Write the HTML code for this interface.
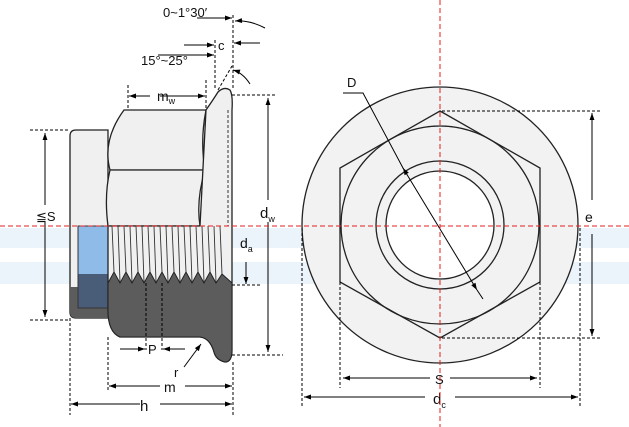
<!DOCTYPE html>
<html><head><meta charset="utf-8"><style>
html,body{margin:0;padding:0;background:#fff;width:629px;height:427px;overflow:hidden}
text{font-family:"Liberation Sans","DejaVu Sans",sans-serif;fill:#111}
</style></head><body>
<svg width="629" height="427" viewBox="0 0 629 427" xmlns="http://www.w3.org/2000/svg">
<defs>
<marker id="a" viewBox="0 0 10 10" refX="10" refY="5" markerWidth="9" markerHeight="7" orient="auto-start-reverse" markerUnits="userSpaceOnUse"><path d="M0,1.5L10,5L0,8.5z" fill="#000"/></marker>
</defs>
<!-- watermark bands -->
<rect x="0" y="228" width="629" height="20" fill="#e3eff9" opacity="0.7"/>
<rect x="0" y="262" width="629" height="22" fill="#e3eff9" opacity="0.7"/>

<!-- LEFT VIEW -->
<!-- collar -->
<path d="M76,130 H108 V318 H76 Q70,318 70,312 V136 Q70,130 76,130Z" fill="#f0f0f0" stroke="#222" stroke-width="1.3"/>
<path d="M70,287 H108 V318 H76 Q70,318 70,312Z" fill="#5c5c5c"/>
<rect x="78" y="226" width="30" height="48" fill="#8fbbe8"/>
<rect x="78" y="274" width="30" height="34" fill="#4a5d78"/>
<rect x="78" y="226" width="30" height="82" fill="none" stroke="#333"/>
<!-- hex body -->
<path d="M124,110 H206 Q200,140 205,170 L110,170 Q102,140 124,110Z" fill="#f0f0f0" stroke="#222" stroke-width="1.3"/>
<path d="M110,170 H205 Q196,200 200,226 H108 Q104,195 110,170Z" fill="#f0f0f0" stroke="#222" stroke-width="1.3"/>
<!-- flange -->
<path d="M206,110 Q213,100 218,92 Q224,86 230,90 Q233,95 232,110 V350 Q232,362 225,362 Q216,360 214,352 Q210,338 200,337 H120 Q108,332 108,310 V226 H200 Z" fill="#f0f0f0" stroke="#222" stroke-width="1.3"/>
<!-- lower dark -->
<path d="M108,283 L114,272 120,283 126,272 132,283 138,272 144,283 150,272 156,283 162,272 168,283 174,272 180,283 186,272 192,283 198,272 204,283 210,272 216,283 222,274 232,283 V350 Q232,362 225,362 Q216,360 214,352 Q210,338 200,337 H120 Q108,332 108,310Z" fill="#5c5c5c" stroke="#222"/>
<!-- thread lines -->
<g stroke="#333" stroke-width="0.9">
<line x1="112" y1="226" x2="114" y2="272"/><line x1="118" y1="226" x2="120" y2="282"/><line x1="124" y1="226" x2="126" y2="272"/><line x1="130" y1="226" x2="132" y2="282"/><line x1="136" y1="226" x2="138" y2="272"/><line x1="142" y1="226" x2="144" y2="282"/><line x1="148" y1="226" x2="150" y2="272"/><line x1="154" y1="226" x2="156" y2="282"/><line x1="160" y1="226" x2="162" y2="272"/><line x1="166" y1="226" x2="168" y2="282"/><line x1="172" y1="226" x2="174" y2="272"/><line x1="178" y1="226" x2="180" y2="282"/><line x1="184" y1="226" x2="186" y2="272"/><line x1="190" y1="226" x2="192" y2="282"/><line x1="196" y1="226" x2="198" y2="272"/><line x1="202" y1="226" x2="204" y2="282"/><line x1="208" y1="226" x2="210" y2="272"/><line x1="214" y1="226" x2="216" y2="282"/><line x1="220" y1="226" x2="222" y2="274"/>
</g>
<line x1="228" y1="110" x2="228" y2="226" stroke="#333" stroke-dasharray="3,2"/>

<!-- dimension lines left -->
<g stroke="#000" stroke-width="1" fill="none">
<g stroke-dasharray="3,2">
<line x1="30" y1="130" x2="70" y2="130"/><line x1="30" y1="320" x2="70" y2="320"/>
<line x1="128" y1="85" x2="128" y2="110"/><line x1="206" y1="80" x2="206" y2="110"/>
<line x1="215" y1="40" x2="215" y2="88"/><line x1="233" y1="15" x2="233" y2="90"/>
<line x1="232" y1="95" x2="276" y2="95"/><line x1="232" y1="355" x2="283" y2="355"/>
<line x1="232" y1="285" x2="260" y2="285"/>
<line x1="146" y1="283" x2="146" y2="350"/><line x1="162" y1="283" x2="162" y2="350"/>
<line x1="108" y1="337" x2="108" y2="390"/><line x1="70" y1="318" x2="70" y2="415"/>
<line x1="233" y1="362" x2="233" y2="415"/>
<line x1="218" y1="90" x2="232" y2="66"/>
</g>
<line x1="45" y1="133" x2="45" y2="205" marker-start="url(#a)"/>
<line x1="45" y1="222" x2="45" y2="317" marker-end="url(#a)"/>
<line x1="268" y1="98" x2="268" y2="200" marker-start="url(#a)"/>
<line x1="268" y1="222" x2="268" y2="352" marker-end="url(#a)"/>
<line x1="246" y1="262" x2="246" y2="284" marker-end="url(#a)"/>
<line x1="160" y1="96" x2="205" y2="96" marker-end="url(#a)"/>
<line x1="150" y1="96" x2="129" y2="96" marker-end="url(#a)"/>
<line x1="158" y1="55" x2="214" y2="55" marker-end="url(#a)"/>
<line x1="184" y1="45" x2="214" y2="45" marker-end="url(#a)"/>
<line x1="260" y1="43" x2="234" y2="43" marker-end="url(#a)"/>
<line x1="197" y1="18" x2="232" y2="18" marker-end="url(#a)"/>
<path d="M265,28 Q250,20 235,21" marker-end="url(#a)"/>
<path d="M250,84 Q243,73 233,70" marker-end="url(#a)"/>
<line x1="120" y1="349" x2="145" y2="349" marker-end="url(#a)"/>
<line x1="185" y1="349" x2="163" y2="349" marker-end="url(#a)"/>
<line x1="184" y1="367" x2="201" y2="344" marker-end="url(#a)"/>
<line x1="160" y1="386" x2="109" y2="386" marker-end="url(#a)"/>
<line x1="185" y1="386" x2="232" y2="386" marker-end="url(#a)"/>
<line x1="140" y1="404" x2="71" y2="404" marker-end="url(#a)"/>
<line x1="160" y1="404" x2="232" y2="404" marker-end="url(#a)"/>
</g>
<text x="163" y="17" font-size="13">0~1°30′</text>
<text x="218" y="50" font-size="13">c</text>
<text x="141" y="65" font-size="13">15°~25°</text>
<text x="157" y="101" font-size="14">m<tspan font-size="9" dy="3">w</tspan></text>
<text x="36" y="221" font-size="13">≦S</text>
<text x="260" y="218" font-size="15">d<tspan font-size="9" dy="4">w</tspan></text>
<text x="240" y="248" font-size="14">d<tspan font-size="9" dy="4">a</tspan></text>
<text x="148" y="354" font-size="13">P</text>
<text x="174" y="377" font-size="13">r</text>
<text x="164" y="392" font-size="14">m</text>
<text x="140" y="411" font-size="15">h</text>

<!-- RIGHT VIEW -->
<circle cx="440" cy="225" r="138" fill="#f2f2f2" stroke="#222" stroke-width="1.3"/>
<polygon points="440,111 540,168 540,282 440,338 340,282 340,168" fill="#f2f2f2" stroke="#222" stroke-width="1.3"/>
<circle cx="440" cy="225" r="99" fill="none" stroke="#222" stroke-width="1.3"/>
<circle cx="440" cy="225" r="64" fill="#f2f2f2" stroke="#222" stroke-width="1.3"/>
<circle cx="440" cy="225" r="54" fill="#fff" stroke="#222" stroke-width="1.3"/>
<g stroke="#000" stroke-width="1" fill="none">
<g stroke-dasharray="3,2">
<line x1="442" y1="111" x2="602" y2="111"/><line x1="442" y1="338" x2="602" y2="338"/>
<line x1="340" y1="282" x2="340" y2="388"/><line x1="540" y1="282" x2="540" y2="388"/>
<line x1="302" y1="228" x2="302" y2="407"/><line x1="580" y1="228" x2="580" y2="407"/>
</g>
<line x1="592" y1="200" x2="592" y2="113" marker-end="url(#a)"/>
<line x1="592" y1="234" x2="592" y2="336" marker-end="url(#a)"/>
<line x1="430" y1="378" x2="343" y2="378" marker-end="url(#a)"/>
<line x1="450" y1="378" x2="537" y2="378" marker-end="url(#a)"/>
<line x1="425" y1="397" x2="304" y2="397" marker-end="url(#a)"/>
<line x1="455" y1="397" x2="578" y2="397" marker-end="url(#a)"/>
<polyline points="343,93 363,93 403,168"/>
<line x1="403" y1="168" x2="477" y2="290" marker-end="url(#a)"/>
<line x1="403" y1="168" x2="403.5" y2="168.8" marker-start="url(#a)"/>
<line x1="477" y1="290" x2="483" y2="299"/>
</g>
<text x="347" y="87" font-size="13">D</text>
<text x="585" y="222" font-size="14">e</text>
<text x="435" y="384" font-size="13">S</text>
<text x="433" y="404" font-size="15">d<tspan font-size="9" dy="4">c</tspan></text>

<!-- center lines -->
<line x1="0" y1="226" x2="629" y2="226" stroke="#e02020" stroke-dasharray="5,3" stroke-width="1"/>
<line x1="440" y1="0" x2="440" y2="427" stroke="#e02020" stroke-dasharray="5,3" stroke-width="1"/>
</svg>
</body></html>
